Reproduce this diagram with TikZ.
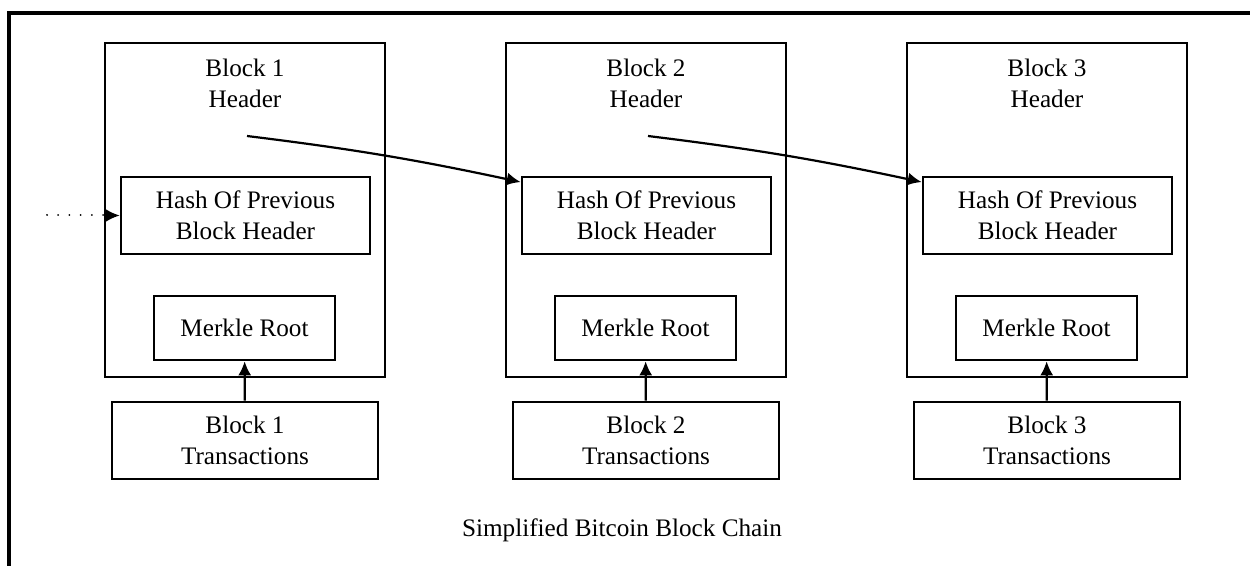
\documentclass[tikz,border=0pt]{standalone}
\usepackage{fontspec}
\setmainfont{Liberation Serif}
\usetikzlibrary{arrows.meta,calc}
\begin{document}
\begin{tikzpicture}[x=0.5pt,y=-0.5pt,
 box/.style={draw,line width=1.3pt,rectangle,inner sep=0pt,align=center,font=\fontsize{12.6}{15.5}\selectfont},
 txt/.style={align=center,font=\fontsize{12.6}{15.5}\selectfont,inner sep=0pt},
 tip/.style={-{Latex[length=7pt,width=6.5pt]}},
 arr/.style={line width=1.1pt,tip}]
\useasboundingbox (0,0) rectangle (1250,566);
\draw[line width=1.6pt] (9,566) -- (9,13) -- (1250,13);
\foreach \i/\dx in {1/0,2/401,3/802} {
  \node[box,minimum width=140pt,minimum height=167pt] (blk\i) at (245+\dx,210) {};
  \node[txt] (head\i) at (245+\dx,83) {Block \i\\Header};
  \node[box,minimum width=124.5pt,minimum height=38.5pt] (hash\i) at (245.5+\dx,215.5) {Hash Of Previous\\Block Header};
  \node[box,minimum width=90.5pt,minimum height=32pt] (mr\i) at (244.5+\dx,328) {Merkle Root};
  \node[box,minimum width=133pt,minimum height=38.5pt] (tr\i) at (245+\dx,440.5) {Block \i\\Transactions};
  \draw[arr] (tr\i) -- (mr\i);
  \coordinate (src\i) at (247+\dx,136);
  \coordinate (in\i) at ($(hash\i.north west)!0.08!(hash\i.south west)$);
}
\draw[arr] (src1) to[bend left=2.5] (in2);
\draw[arr] (src2) to[bend left=2.5] (in3);
\coordinate (dots) at (47,215.5);
\draw[line width=1pt,dash pattern=on 0.01pt off 5.6pt,line cap=round,tip] (dots) -- (hash1.west);
\node[txt] (cap) at (622,530) {Simplified Bitcoin Block Chain};
\end{tikzpicture}
\end{document}
